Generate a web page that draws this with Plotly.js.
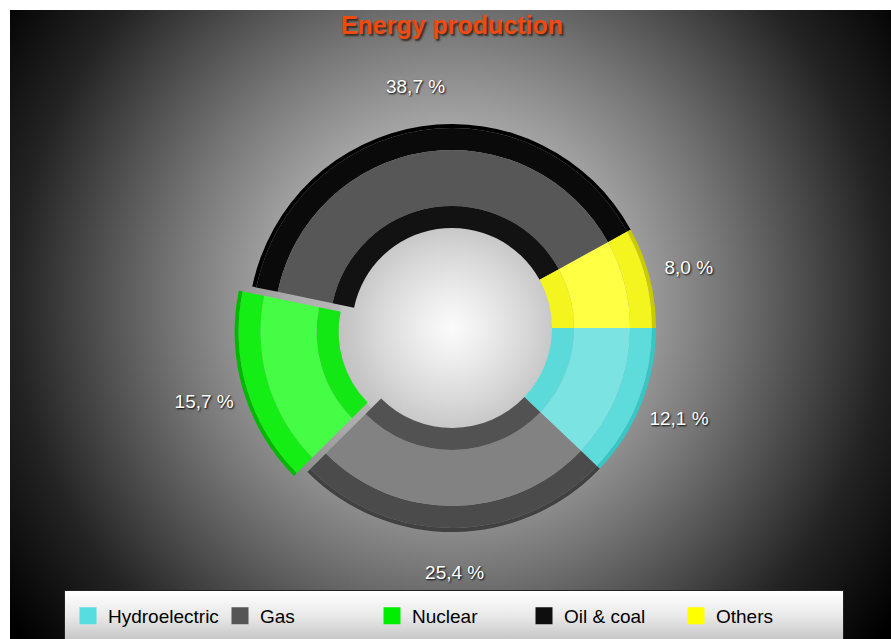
<!DOCTYPE html>
<html>
<head>
<meta charset="utf-8">
<script src="https://cdn.plot.ly/plotly-3.0.1.min.js"></script>
<style>
  html, body { margin: 0; padding: 0; background: #ffffff; }
  #wrap { position: relative; width: 891px; height: 639px; overflow: hidden; background: #ffffff; }
  #bg { position: absolute; left: 10px; top: 10px; width: 881px; height: 629px;
        background:
          radial-gradient(circle 114px at 442px 318px, #fbfbfb 0px, #ececec 35px, #d6d6d6 77px, #c8c8c8 100px, #c2c2c2 113px, rgba(0,0,0,0) 114px),
          radial-gradient(circle 545px at 440px 290px, #d6d6d6 0%, #aaaaaa 30%, #777777 50%, #505050 64%, #232323 80%, #000000 100%); }
  #legbox { position: absolute; left: 64px; top: 590px; width: 780px; height: 60px;
            border: 1px solid #222; box-sizing: border-box;
            background: linear-gradient(to bottom, #ffffff 0%, #e8e8e8 45%, #b8b8b8 100%); }
  #plot { position: absolute; left: 0; top: 0; width: 891px; height: 639px; }
</style>
</head>
<body>
<div id="wrap">
  <div id="bg"></div>
  <div id="legbox"></div>
  <div id="plot"></div>
</div>
<script>
// ---- data ----
const categories = ['Hydroelectric', 'Gas', 'Nuclear', 'Oil & coal', 'Others'];
const shares = [12.1, 25.4, 15.7, 38.7, 8.0];
const pulledCategory = 'Nuclear';
const chartTitle = 'Energy production';

// ---- styling ----
const W = 891, H = 639;
const cx = 452, cy = 328;          // pie centre in px
const pullPx = 14;                 // explode distance in px
const FONT = '"Liberation Sans", Arial, sans-serif';

const legendColors = ['#55dde0', '#555555', '#00ee00', '#0e0e0e', '#ffff00'];

// shades per category: [edge, outer band, middle band, inner band]
const shades = {
  'Hydroelectric': ['#36c6c6', '#5edcdc', '#7ce3e3', '#5cdada'],
  'Gas':           ['#414141', '#4b4b4b', '#828282', '#525252'],
  'Nuclear':       ['#00b800', '#14ee14', '#46fd46', '#14e814'],
  'Oil & coal':    ['#000000', '#0a0a0a', '#575757', '#121212'],
  'Others':        ['#caca00', '#f4f41e', '#ffff44', '#f4f41e']
};

// rings: outer radius, inner radius, shade index
const rings = [
  {R: 204, r: 200, k: 0},
  {R: 200, r: 178, k: 1},
  {R: 178, r: 122, k: 2},
  {R: 122, r: 100, k: 3}
];

function domainAt(px, py, R, pull) {
  const h = R + pull;
  return {
    x: [(px - h) / W, (px + h) / W],
    y: [(H - py - h) / H, (H - py + h) / H]
  };
}
function pullFor(R) {
  return categories.map(c => c === pulledCategory ? pullPx / R : 0);
}

const common = {
  type: 'pie',
  labels: categories,
  values: shares,
  sort: false,
  direction: 'clockwise',
  rotation: 90
};

// legend carrier: a tiny pie hidden underneath the oil & coal band (only its legend swatches show)
const traces = [Object.assign({}, common, {
  domain: domainAt(cx, cy - 150, 4, 0),
  marker: { colors: legendColors, line: { width: 5, color: legendColors } },
  textinfo: 'none',
  hoverinfo: 'skip',
  showlegend: true
})];

rings.forEach(g => traces.push(Object.assign({}, common, {
  hole: g.r / g.R,
  domain: domainAt(cx, cy, g.R, pullPx),
  pull: pullFor(g.R),
  marker: { colors: categories.map(c => shades[c][g.k]), line: { width: 0 } },
  textinfo: 'none',
  hoverinfo: 'label+value',
  showlegend: false
})));

// transparent ring that carries the percentage labels
const LR = 281, Lr = 208;
traces.push(Object.assign({}, common, {
  hole: Lr / LR,
  domain: domainAt(cx, cy, LR, pullPx),
  pull: pullFor(LR),
  marker: { colors: categories.map(() => 'rgba(0,0,0,0)'), line: { width: 0 } },
  texttemplate: '%{value:.1f} %',
  textposition: 'inside',
  insidetextorientation: 'horizontal',
  textfont: { family: FONT, size: 19, color: '#ffffff', shadow: '1px 1px 2px #000000' },
  hoverinfo: 'skip',
  showlegend: false
}));

const layout = {
  width: W, height: H,
  margin: { l: 0, r: 0, t: 0, b: 0 },
  paper_bgcolor: 'rgba(0,0,0,0)',
  plot_bgcolor: 'rgba(0,0,0,0)',
  separators: ', ',
  title: {
    text: chartTitle,
    x: cx / W, xanchor: 'center',
    y: 1 - 25 / H, yanchor: 'middle', yref: 'container',
    font: { family: FONT, size: 25, color: '#f04a10', weight: 'bold', shadow: '2px 2px 2px #3a2a20' }
  },
  showlegend: true,
  legend: {
    orientation: 'h',
    x: 68 / W, xanchor: 'left',
    y: 1 - 597 / H, yanchor: 'top',
    entrywidth: 107, entrywidthmode: 'pixels',
    bgcolor: 'rgba(0,0,0,0)',
    font: { family: FONT, size: 19, color: '#000000' },
    itemclick: false, itemdoubleclick: false
  }
};

Plotly.newPlot('plot', traces, layout, { displayModeBar: false });
</script>
</body>
</html>
